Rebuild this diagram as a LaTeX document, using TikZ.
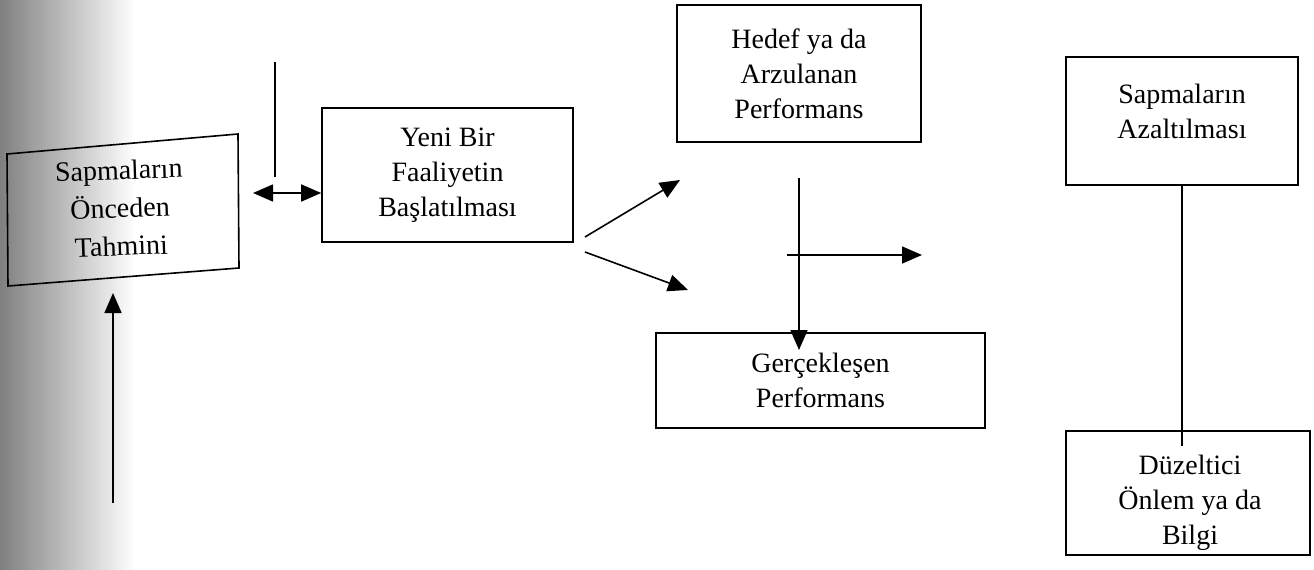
\documentclass[tikz,border=0pt]{standalone}
\usepackage{fontspec}
\setmainfont{Liberation Serif}
\usetikzlibrary{arrows.meta}
\begin{document}
\begin{tikzpicture}[x=1pt,y=-1pt,
  box/.style={draw, line width=1.6pt, align=center, inner sep=0pt,
              font=\fontsize{28}{35}\selectfont},
  txt/.style={align=center, inner sep=0pt, font=\fontsize{28}{35}\selectfont},
  conn/.style={line width=1.6pt},
  arr/.style={conn, -{Triangle[length=20pt,width=17pt]}},
  darr/.style={conn, {Triangle[length=20pt,width=17pt]}-{Triangle[length=20pt,width=17pt]}}]

\useasboundingbox (0,0) rectangle (1314,570);
\shade[left color=black!50, right color=white] (0,0) rectangle (135,570);

% skewed left box
\coordinate (p1) at (7,154);
\coordinate (p2) at (238,134);
\coordinate (p3) at (239,268);
\coordinate (p4) at (8,286);
\draw[line width=1.6pt] (p1)--(p2)--(p3)--(p4)--cycle;
\node[align=center, rotate=2, inner sep=0pt, font=\fontsize{28}{38}\selectfont] (pred) at (120,208) {Sapmaların\\Önceden\\Tahmini};

% boxes
\node[box, minimum width=251pt, minimum height=134pt] (yeni) at (447.5,175) {Yeni Bir\\Faaliyetin\\Başlatılması};
\node[box, minimum width=244pt, minimum height=137pt] (hedef) at (799,73.5) {Hedef ya da\\Arzulanan\\Performans};
\node[box, minimum width=329pt, minimum height=95pt] (gerc) at (820.5,380.5) {Gerçekleşen\\Performans};
\node[box, minimum width=232pt, minimum height=128pt] (azal) at (1182,121) {};
\node[txt] (azaltxt) at (1182,111) {Sapmaların\\Azaltılması};
\node[box, minimum width=244pt, minimum height=124pt] (duz) at (1188,493) {};
\node[txt] (duztxt) at (1190,503) {Düzeltici\\Önlem ya da\\Bilgi};

% connectors
\coordinate (vtop) at (275,62);
\coordinate (vbot) at (275,177);
\draw[conn] (vtop) -- (vbot);

\coordinate (dl) at (253,193);
\draw[darr] (dl) -- (dl -| yeni.west);

\coordinate (ubot) at (113,503);
\coordinate (utop) at (113,293);
\draw[arr] (ubot) -- (utop);

\coordinate (s1) at (585,237);
\coordinate (t1) at (680,180);
\draw[arr] (s1) -- (t1);
\coordinate (s2) at (585,252);
\coordinate (t2) at (688,290);
\draw[arr] (s2) -- (t2);

\coordinate (vs) at (799,178);
\coordinate (ve) at (799,350);
\draw[arr] (vs) -- (ve);

\coordinate (hs) at (787,255);
\coordinate (he) at (922,255);
\draw[arr] (hs) -- (he);

\coordinate (le) at (1182,446);
\draw[conn] (azal.south) -- (le);
\end{tikzpicture}
\end{document}
